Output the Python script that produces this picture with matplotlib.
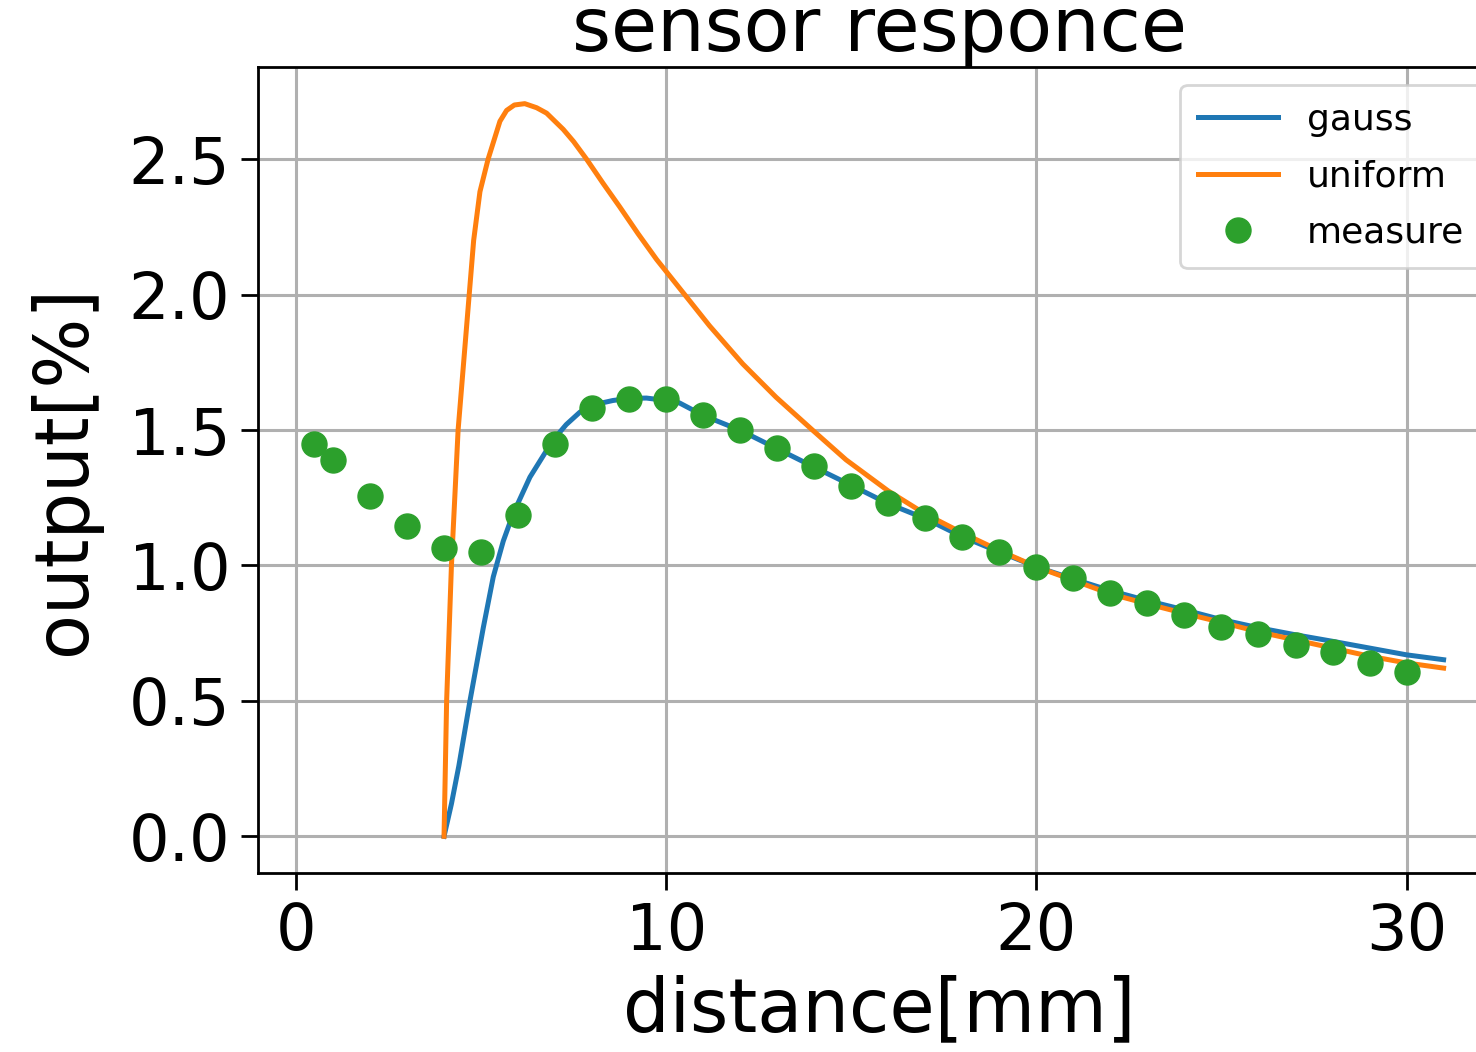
import numpy as np
import matplotlib.pyplot as plt

# measured sensor output
measure_x = [0.5, 1, 2, 3, 4, 5, 6, 7, 8, 9, 10, 11, 12, 13, 14, 15, 16, 17, 18, 19,
             20, 21, 22, 23, 24, 25, 26, 27, 28, 29, 30]
measure_y = [1.447, 1.39, 1.255, 1.145, 1.064, 1.049, 1.186, 1.447, 1.583, 1.613, 1.613,
             1.557, 1.499, 1.432, 1.366, 1.292, 1.23, 1.175, 1.105, 1.049,
             0.994, 0.954, 0.898, 0.862, 0.817, 0.773, 0.747, 0.707, 0.681, 0.641, 0.608]

# gauss model
gauss_x = [4.0, 4.2, 4.4, 4.7, 5.06, 5.33, 5.6, 5.87, 6.32, 6.94, 7.3, 7.67, 8.1, 8.56,
           9.0, 9.47, 10.0, 10.36, 11, 12, 13, 14, 15, 16, 17, 18, 19, 20, 21, 22, 23,
           24, 25, 26, 27, 28, 29, 30, 31]
gauss_y = [0.0, 0.12, 0.26, 0.50, 0.77, 0.958, 1.09, 1.192, 1.326, 1.462, 1.52, 1.566,
           1.595, 1.609, 1.617, 1.618, 1.609, 1.60, 1.554, 1.499, 1.431, 1.363, 1.296,
           1.228, 1.173, 1.106, 1.05, 0.995, 0.95, 0.907, 0.87, 0.836, 0.80, 0.77, 0.744,
           0.72, 0.695, 0.670, 0.652]

# uniform model
uniform_x = [4.0, 4.07, 4.2, 4.38, 4.68, 4.8, 4.97, 5.19, 5.51, 5.69, 5.9, 6.18, 6.5, 6.77,
             7.22, 7.5, 7.85, 8.3, 8.74, 9.24, 9.74, 10.5, 11.17, 12.07, 12.97, 13.96,
             14.86, 16, 17, 18, 19, 20, 21, 22, 23, 24, 25, 26, 27, 28, 29, 30, 31]
uniform_y = [0.0, 0.5, 1.0, 1.5, 2.0, 2.2, 2.38, 2.5, 2.64, 2.68, 2.70, 2.705, 2.69, 2.67,
             2.61, 2.565, 2.5, 2.41, 2.325, 2.225, 2.13, 2.0, 1.885, 1.744, 1.621, 1.499,
             1.39, 1.275, 1.19, 1.12, 1.055, 0.995, 0.945, 0.895, 0.858, 0.823, 0.79, 0.755,
             0.725, 0.695, 0.665, 0.64, 0.621]

fig = plt.figure(figsize=(14.76, 10.52), dpi=100)
ax = fig.add_axes([0.1748, 0.1702, 0.8415, 0.7661])

ax.plot(gauss_x, gauss_y, color='#1f77b4', lw=3.6, label='gauss')
ax.plot(uniform_x, uniform_y, color='#ff7f0e', lw=3.6, label='uniform')
ax.plot(measure_x, measure_y, 'o', color='#2ca02c', ms=18, label='measure')

ax.set_xticks([0, 10, 20, 30])
ax.set_yticks([0.0, 0.5, 1.0, 1.5, 2.0, 2.5])
ax.grid(True, color='#b0b0b0', lw=2.2)
ax.tick_params(labelsize=46, length=12, width=2, pad=8)
for s in ax.spines.values():
    s.set_linewidth(2)

ax.set_title('sensor responce', fontsize=54, pad=8)
ax.set_xlabel('distance[mm]', fontsize=53, labelpad=8)
ax.set_ylabel('output[%]', fontsize=53, labelpad=20)

leg = ax.legend(loc='upper right', fontsize=26, markerscale=1.0, handlelength=2.2,
                borderpad=0.5, labelspacing=0.62, handletextpad=0.8)
leg.get_frame().set_linewidth(2)

fig.savefig('out.png', dpi=100)
